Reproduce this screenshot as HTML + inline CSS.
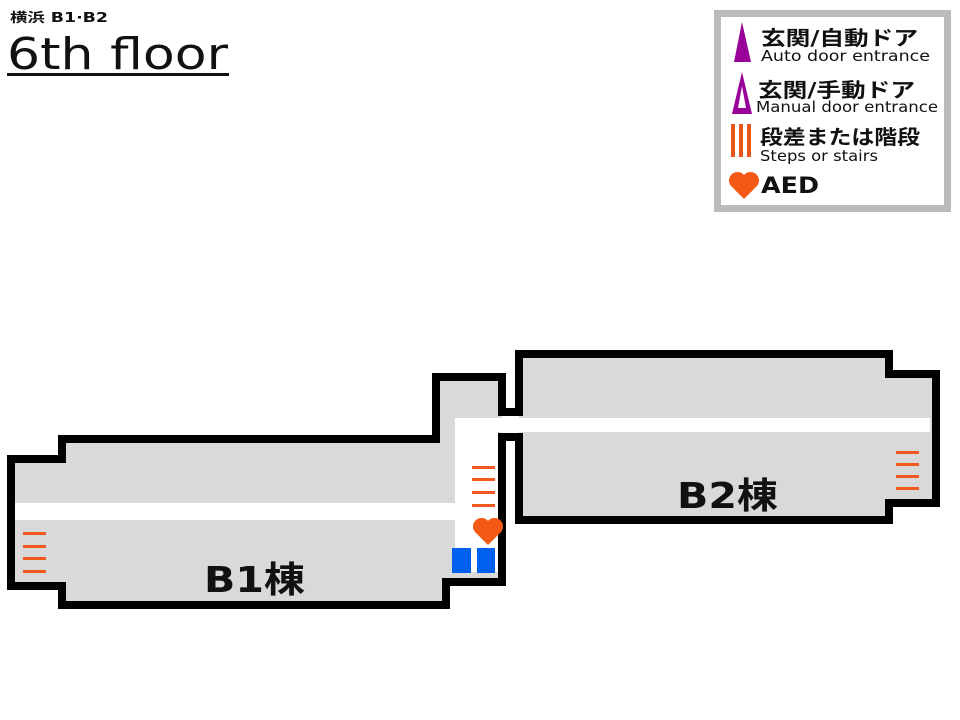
<!DOCTYPE html>
<html><head><meta charset="utf-8"><style>
html,body{margin:0;padding:0;background:#fff;}
svg{display:block;}
text{font-family:"DejaVu Sans","Noto Sans CJK JP",sans-serif;}
</style></head><body>
<svg width="960" height="720" viewBox="0 0 960 720" xmlns="http://www.w3.org/2000/svg">
<!-- Title -->
<text x="10" y="22" font-size="13" font-weight="bold" fill="#111" textLength="98" lengthAdjust="spacingAndGlyphs">横浜 B1·B2</text>
<text x="7" y="69" font-size="44" fill="#111" textLength="221" lengthAdjust="spacingAndGlyphs">6th floor</text>
<rect x="7" y="73" width="222" height="3" fill="#111"/>

<!-- Legend -->
<rect x="717.5" y="13.5" width="230" height="195" fill="#fff" stroke="#bbb" stroke-width="7"/>
<polygon points="742,22 734,62 751,62" fill="#990099"/>
<text x="761" y="45" font-size="20" font-weight="bold" fill="#111" textLength="157" lengthAdjust="spacingAndGlyphs">玄関/自動ドア</text>
<text x="761" y="61" font-size="15" fill="#111" textLength="169" lengthAdjust="spacingAndGlyphs">Auto door entrance</text>
<polygon points="742,72 732,114 752,114" fill="#990099"/>
<polygon points="742,86 738,108 746,108" fill="#fff"/>
<text x="758" y="97" font-size="20" font-weight="bold" fill="#111" textLength="157" lengthAdjust="spacingAndGlyphs">玄関/手動ドア</text>
<text x="756" y="112" font-size="15" fill="#111" textLength="182" lengthAdjust="spacingAndGlyphs">Manual door entrance</text>
<rect x="731" y="124" width="4" height="33" fill="#e8561e"/>
<rect x="739" y="124" width="4" height="33" fill="#e8561e"/>
<rect x="747" y="124" width="4" height="33" fill="#e8561e"/>
<text x="760" y="144" font-size="20" font-weight="bold" fill="#111" textLength="160" lengthAdjust="spacingAndGlyphs">段差または階段</text>
<text x="760" y="161" font-size="15" fill="#111" textLength="118" lengthAdjust="spacingAndGlyphs">Steps or stairs</text>
<path d="M744,199 L731,186 A7,7 0 0 1 744,175 A7,7 0 0 1 757,186 Z" fill="#f45a16"/>
<text x="761" y="193" font-size="22" font-weight="bold" fill="#111" textLength="58" lengthAdjust="spacingAndGlyphs">AED</text>

<!-- B1 -->
<path d="M11,459 L62,459 L62,439 L436,439 L436,377 L502,377 L502,582 L446,582 L446,605 L62,605 L62,586 L11,586 Z" fill="#d9d9d9"/>
<!-- B2 -->
<path d="M519,354 L889,354 L889,374 L936,374 L936,503 L889,503 L889,520 L519,520 Z" fill="#d9d9d9"/>
<!-- corridors -->
<rect x="15" y="503" width="440" height="17" fill="#fff"/>
<rect x="455" y="418" width="43" height="154" fill="#fff"/>
<rect x="498" y="418" width="432" height="14" fill="#fff"/>
<!-- outlines -->
<g fill="none" stroke="#000" stroke-width="8" stroke-linejoin="miter">
<path d="M502,412 L502,377 L436,377 L436,439 L62,439 L62,459 L11,459 L11,586 L62,586 L62,605 L446,605 L446,582 L502,582 L502,436"/>
<path d="M519,412 L519,354 L889,354 L889,374 L936,374 L936,503 L889,503 L889,520 L519,520 L519,436"/>
<path d="M498,412 L523,412"/>
<path d="M498,437 L523,437"/>
</g>
<!-- stairs -->
<g fill="#f05a1e">
<rect x="23" y="532" width="23" height="3"/><rect x="23" y="545" width="23" height="3"/><rect x="23" y="557" width="23" height="3"/><rect x="23" y="570" width="23" height="3"/>
<rect x="472" y="466" width="23" height="3"/><rect x="472" y="478" width="23" height="3"/><rect x="472" y="491" width="23" height="3"/><rect x="472" y="504" width="23" height="3"/>
<rect x="896" y="451" width="23" height="3"/><rect x="896" y="463" width="23" height="3"/><rect x="896" y="475" width="23" height="3"/><rect x="896" y="487" width="23" height="3"/>
</g>
<path d="M488,545 L475,532 A7,7 0 0 1 488,521 A7,7 0 0 1 501,532 Z" fill="#f45a16"/>
<rect x="452" y="548" width="19" height="25" fill="#0060f0"/>
<rect x="477" y="548" width="18" height="25" fill="#0060f0"/>
<text x="204" y="592" font-size="36" font-weight="bold" fill="#111" textLength="101" lengthAdjust="spacingAndGlyphs">B1棟</text>
<text x="677" y="508" font-size="36" font-weight="bold" fill="#111" textLength="101" lengthAdjust="spacingAndGlyphs">B2棟</text>
</svg>
</body></html>
